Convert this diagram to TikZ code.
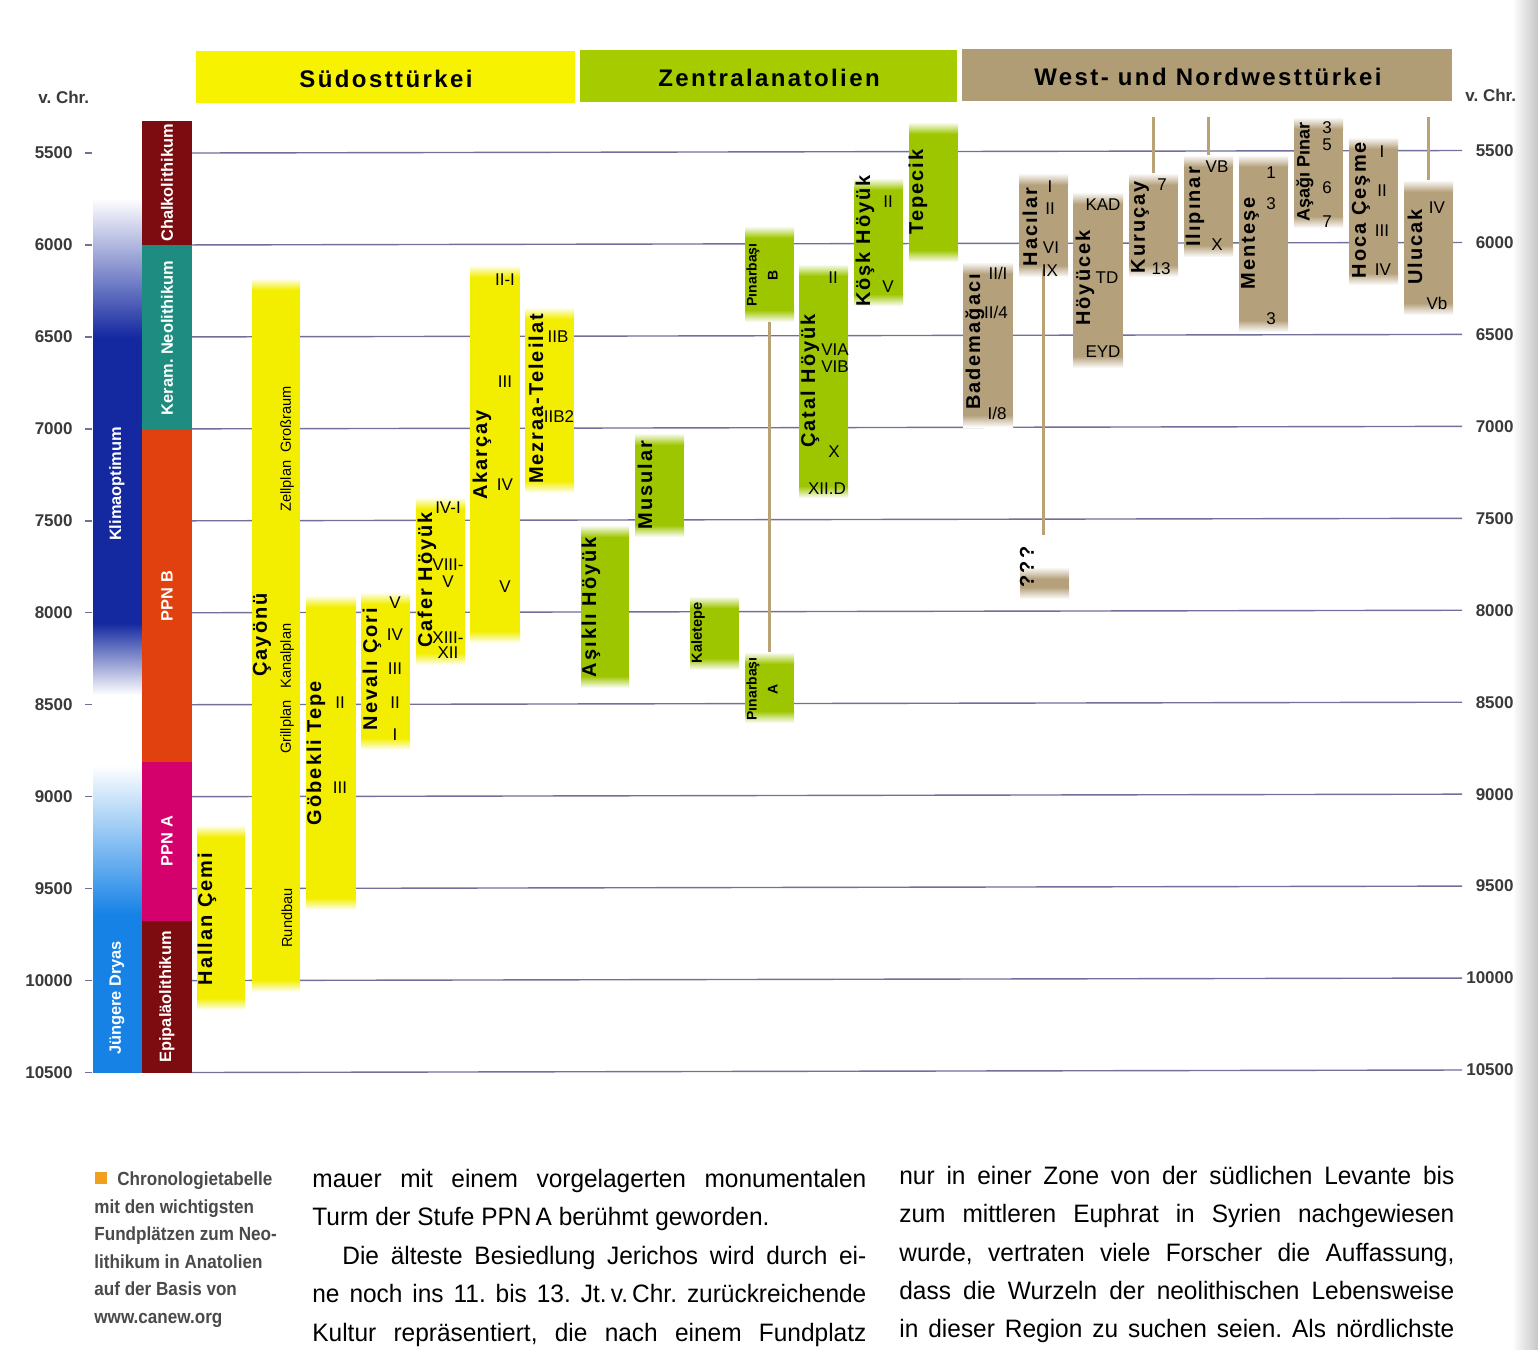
\documentclass[tikz,border=0pt]{standalone}
\usepackage{fontspec}
\setmainfont{Liberation Sans}
\newfontfamily\spacedfont[LetterSpace=10]{Liberation Sans}
\newfontfamily\hdrfamily[LetterSpace=10]{Liberation Sans}
\newfontfamily\condfont[FakeStretch=0.97]{Liberation Sans}
\newfontfamily\capfamily[FakeStretch=0.9]{Liberation Sans}
\usetikzlibrary{fit}
\frenchspacing
\definecolor{ylw}{RGB}{243,238,0}
\definecolor{grn}{RGB}{158,198,0}
\definecolor{tanc}{RGB}{180,160,122}
\definecolor{hylw}{RGB}{246,242,0}
\definecolor{hgrn}{RGB}{166,204,0}
\definecolor{htan}{RGB}{176,157,118}
\definecolor{gridc}{RGB}{112,112,155}
\definecolor{kblue}{RGB}{20,40,160}
\definecolor{kmid}{RGB}{120,150,225}
\definecolor{jblue}{RGB}{22,130,230}
\definecolor{chalk}{RGB}{125,12,16}
\definecolor{keram}{RGB}{30,140,128}
\definecolor{ppnb}{RGB}{225,65,15}
\definecolor{ppna}{RGB}{212,0,108}
\definecolor{linec}{RGB}{185,162,118}
\definecolor{axc}{RGB}{58,58,58}
\definecolor{capc}{RGB}{74,74,74}
\definecolor{orangec}{RGB}{240,160,30}
\newcommand\sitebar[6]{%
  \fill[#6] (#2,#3+11.5) rectangle (#4,#5-11.5);
  \shade[top color=white,bottom color=#6] (#2,#3) rectangle (#4,#3+12);
  \shade[top color=#6,bottom color=white] (#2,#5-12) rectangle (#4,#5);
  \node[fit={(#2,#3)(#4,#5)},inner sep=0pt] (#1) {};
}
\begin{document}
\begin{tikzpicture}[x=0.5pt,y=-0.5pt,
  site/.style={rotate=90,inner sep=0pt,font=\fontsize{10}{12}\spacedfont\bfseries},
  smallsite/.style={rotate=90,inner sep=0pt,align=center,font=\fontsize{7}{10.5}\selectfont\bfseries},
  num/.style={inner sep=0pt,font=\fontsize{8.5}{9}\selectfont},
  sub/.style={rotate=90,inner sep=0pt,font=\fontsize{7.3}{9}\selectfont},
  per/.style={rotate=90,inner sep=0pt,text=white,font=\fontsize{8.2}{10}\selectfont\bfseries},
  axl/.style={inner sep=0pt,text=axc,font=\fontsize{8.5}{10}\selectfont\bfseries},
  hdr/.style={inner sep=0pt,font=\fontsize{12}{14}\hdrfamily\bfseries},
  conn/.style={draw=linec,line width=1.6pt},
  gridl/.style={draw=gridc,line width=0.7pt},
  body/.style={anchor=base west,inner sep=0pt,font=\fontsize{12.6}{14}\condfont},
  capt/.style={anchor=base west,inner sep=0pt,text=capc,font=\fontsize{9.5}{11}\capfamily\bfseries}
]
\fill[white] (0,0) rectangle (1538,1350);
\useasboundingbox (0,0) rectangle (1538,1350);
\shade[left color=white,right color=black!22] (1512,0) rectangle (1538,1350);

% grid and axis labels
\foreach \t [count=\i from 0] in {5500,6000,6500,7000,7500,8000,8500,9000,9500,10000,10500}{
  \pgfmathsetmacro\yl{153+91.95*\i}
  \pgfmathsetmacro\yr{\yl-2.5}
  \draw[gridl] (192,\yl) -- (1462,\yr);
  \draw[gridl] (85,\yl) -- (92,\yl);
  \node[axl,anchor=east] (axL\i) at (73,\yl) {\t};
  \node[axl,anchor=east] (axR\i) at (1514,\yr) {\t};
}
\node[axl,anchor=west] (vchrL) at (38,97) {v. Chr.};
\node[axl,anchor=west] (vchrR) at (1465,95) {v. Chr.};

% climate column
\shade[top color=white,middle color=kmid,bottom color=kblue] (93,198) rectangle (142,338);
\fill[kblue] (93,337.5) rectangle (142,623.5);
\shade[top color=kblue,middle color=kmid,bottom color=white] (93,623) rectangle (142,695);
\shade[top color=white,bottom color=jblue] (93,765) rectangle (142,915);
\fill[jblue] (93,914.5) rectangle (142,1073);
\node[per] (cKlima) at (117,484) {Klimaoptimum};
\node[per] (cDryas) at (117,998) {Jüngere Dryas};

% period column
\fill[chalk] (142,121) rectangle (192,245);
\fill[keram] (142,245) rectangle (192,430);
\fill[ppnb] (142,430) rectangle (192,762);
\fill[ppna] (142,762) rectangle (192,921);
\fill[chalk] (142,921) rectangle (192,1073);
\node[per] (pChalk) at (167,183) {Chalkolithikum};
\node[per] (pKeram) at (167,338) {Keram. Neolithikum};
\node[per] (pPPNB) at (167,596) {PPN B};
\node[per] (pPPNA) at (167,841) {PPN A};
\node[per] (pEpi) at (167,997) {Epipaläolithikum};

% headers
\fill[hylw] (196,51) rectangle (575,103);
\fill[hgrn] (580,50) rectangle (957,102);
\fill[htan] (962,49) rectangle (1452,101);
\node[hdr] (hSO) at (386,79) {Südosttürkei};
\node[hdr] (hZA) at (769,78) {Zentralanatolien};
\node[hdr] (hWT) at (1208,77) {West- und Nordwesttürkei};

% bars Südosttürkei
\sitebar{hallan}{197}{825}{245}{1010}{ylw}
\sitebar{cayonu}{252}{278}{300}{992}{ylw}
\sitebar{gobekli}{306}{595}{356}{910}{ylw}
\sitebar{nevali}{361}{592}{410}{750}{ylw}
\sitebar{cafer}{416}{497}{465}{665}{ylw}
\sitebar{akarcay}{470}{265}{520}{643}{ylw}
\sitebar{mezraa}{525}{307}{574}{493}{ylw}
% bars Zentralanatolien
\sitebar{asikli}{581}{525}{629}{688}{grn}
\sitebar{musular}{635}{433}{684}{537}{grn}
\sitebar{kaletepe}{690}{596}{739}{670}{grn}
\sitebar{pinB}{745}{226}{794}{322}{grn}
\sitebar{pinA}{745}{652}{794}{723}{grn}
\sitebar{catal}{799}{264}{848}{498}{grn}
\sitebar{kosk}{854}{178}{903}{306}{grn}
\sitebar{tepecik}{909}{122}{958}{262}{grn}
% bars West
\sitebar{badem}{963}{262}{1013}{427}{tanc}
\sitebar{hacilar}{1019}{173}{1068}{277}{tanc}
\sitebar{qbox}{1020}{567}{1069}{599}{tanc}
\sitebar{hoyucek}{1073}{192}{1123}{368}{tanc}
\sitebar{kurucay}{1129}{173}{1178}{277}{tanc}
\sitebar{ilipinar}{1184}{155}{1233}{257}{tanc}
\sitebar{mentese}{1239}{155}{1288}{332}{tanc}
\sitebar{asagi}{1294}{117}{1343}{228}{tanc}
\sitebar{hoca}{1349}{137}{1398}{285}{tanc}
\sitebar{ulucak}{1404}{180}{1453}{315}{tanc}

% connectors
\draw[conn] (pinB.south) -- (pinA.north);
\coordinate (hacEnd) at (1043.5,535);
\draw[conn] ([yshift=4pt]hacilar.south) -- (hacEnd);
\coordinate (kurTop) at (1153.5,117);
\draw[conn] (kurTop) -- (kurucay.north);
\coordinate (iliTop) at (1208.5,117);
\draw[conn] (iliTop) -- (ilipinar.north);
\coordinate (uluTop) at (1428.5,117);
\draw[conn] (uluTop) -- (ulucak.north);

% site names
\node[site] (tHallan) at (207,919) {Hallan Çemi};
\node[site] (tCayonu) at (262,635) {Çayönü};
\node[site] (tGobekli) at (316,753) {Göbekli Tepe};
\node[site] (tNevali) at (372,669) {Nevalı Çori};
\node[site] (tCafer) at (427,580) {Cafer Höyük};
\node[site] (tAkarcay) at (482,455) {Akarçay};
\node[site] (tMezraa) at (536,399) {Mezraa-Teleilat};
\node[site] (tAsikli) at (591,607) {Aşıklı Höyük};
\node[site] (tMusular) at (645,485) {Musular};
\node[smallsite,font=\fontsize{7.3}{9}\selectfont\bfseries] (tKaletepe) at (698,633) {Kaletepe};
\node[smallsite] (tPinB) at (762,275) {Pınarbaşı\\B};
\node[smallsite] (tPinA) at (762,689) {Pınarbaşı\\A};
\node[site] (tCatal) at (810,381) {Çatal Höyük};
\node[site] (tKosk) at (865,241) {Köşk Höyük};
\node[site] (tTepecik) at (918,192) {Tepecik};
\node[site] (tBadem) at (975,342) {Bademağacı};
\node[site] (tHacilar) at (1030,227) {Hacılar};
\node[site] (tQ) at (1027,567) {???};
\node[site] (tHoyucek) at (1085,278) {Höyücek};
\node[site] (tKurucay) at (1140,227) {Kuruçay};
\node[site] (tIlipinar) at (1195,207) {Ilıpınar};
\node[site] (tMentese) at (1250,243) {Menteşe};
\node[site,font=\fontsize{9}{10}\selectfont\bfseries] (tAsagi) at (1305,172) {Aşağı Pınar};
\node[site] (tHoca) at (1361,210) {Hoca Çeşme};
\node[site] (tUlucak) at (1415,247) {Ulucak};

% Çayönü building phases
\node[sub] (sZell) at (287,449) {Zellplan\hspace{4pt}Großraum};
\node[sub] (sKanal) at (287,656) {Kanalplan};
\node[sub] (sGrill) at (287,727) {Grillplan};
\node[sub] (sRund) at (287,918) {Rundbau};

% phase numerals
\foreach \x/\y/\t [count=\i] in {
 340/703/II, 340/788/III,
 395/603/V, 395/635/IV, 395/669/III, 395/703/II, 395/735/I,
 448/508/IV-I, 448/565/VIII-, 448/582/V, 448/638/XIII-, 448/653/XII,
 505/280/II-I, 505/382/III, 505/485/IV, 505/587/V,
 558/337/IIB, 559/417/IIB2,
 833/278/II, 835/350/VIA, 835/367/VIB, 834/452/X, 827/489/XII.D,
 888/202/II, 888/287/V,
 998/273/II{/}I, 996/312/II{/}4, 997/413/I{/}8,
 1050/187/I, 1050/209/II, 1051/248/VI, 1050/271/IX,
 1103/205/KAD, 1107/278/TD, 1103/352/EYD,
 1162/185/7, 1161/269/13,
 1217/167/VB, 1217/245/X,
 1271/173/1, 1271/204/3, 1271/319/3,
 1327/128/3, 1327/145/5, 1327/188/6, 1327/222/7,
 1382/152/I, 1382/191/II, 1382/231/III, 1383/270/IV,
 1437/208/IV, 1437/303/Vb}{
  \node[num] (ph\i) at (\x,\y) {\t};
}

% caption
\fill[orangec] (95,1172) rectangle (107,1184);
\node[capt] (c1) at (117,1185) {Chronologietabelle};
\node[capt] (c2) at (94,1213) {mit den wichtigsten};
\node[capt] (c3) at (94,1240) {Fundplätzen zum Neo-};
\node[capt] (c4) at (94,1268) {lithikum in Anatolien};
\node[capt] (c5) at (94,1295) {auf der Basis von};
\node[capt] (c6) at (94,1323) {www.canew.org};

% body text column 1
\node[body] (b1) at (312,1187) {\makebox[277pt][s]{mauer mit einem vorgelagerten monumentalen}};
\node[body] (b2) at (312,1225.5) {Turm der Stufe PPN\,A berühmt geworden.};
\node[body] (b3) at (342,1264) {\makebox[262pt][s]{Die älteste Besiedlung Jerichos wird durch ei-}};
\node[body] (b4) at (312,1302.5) {\makebox[277pt][s]{ne noch ins 11. bis 13. Jt.\,v.\,Chr. zurückreichende}};
\node[body] (b5) at (312,1341) {\makebox[277pt][s]{Kultur repräsentiert, die nach einem Fundplatz}};
% body text column 2
\node[body] (d1) at (899,1184) {\makebox[277.5pt][s]{nur in einer Zone von der südlichen Levante bis}};
\node[body] (d2) at (899,1222.5) {\makebox[277.5pt][s]{zum mittleren Euphrat in Syrien nachgewiesen}};
\node[body] (d3) at (899,1261) {\makebox[277.5pt][s]{wurde, vertraten viele Forscher die Auffassung,}};
\node[body] (d4) at (899,1299) {\makebox[277.5pt][s]{dass die Wurzeln der neolithischen Lebensweise}};
\node[body] (d5) at (899,1337.5) {\makebox[277.5pt][s]{in dieser Region zu suchen seien. Als nördlichste}};
\end{tikzpicture}
\end{document}
